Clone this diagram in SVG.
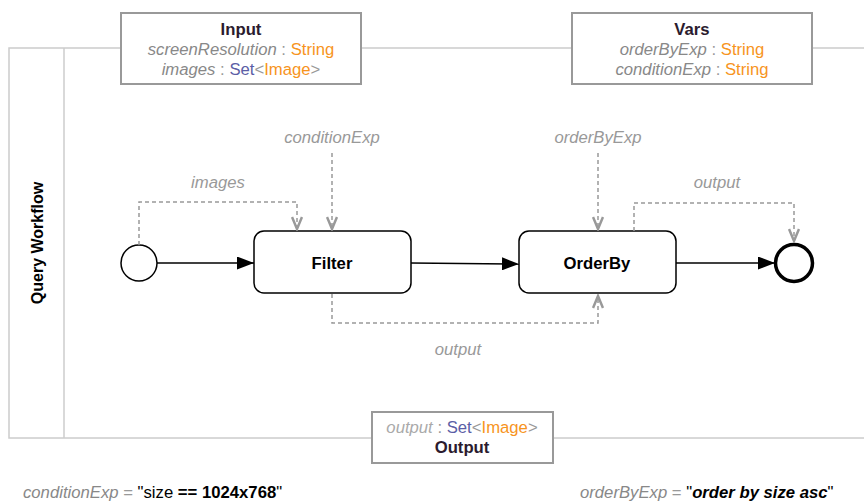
<svg xmlns="http://www.w3.org/2000/svg" width="864" height="502" viewBox="0 0 864 502">
<style>
text{font-family:"Liberation Sans",Arial,sans-serif;font-size:16.7px}
.t{font-weight:bold;fill:#2b1b2e;text-anchor:middle}
.g{font-style:italic;fill:#888}
.lbl{font-style:italic;fill:#999;text-anchor:middle}
.o{fill:#f7941d}
.p{fill:#5b5ea6}
.lt{fill:#999}
.box{fill:#fff;stroke:#999;stroke-width:2}
.task{fill:#fff;stroke:#000;stroke-width:1.5}
.flow{fill:none;stroke:#000;stroke-width:1.5}
.data{fill:none;stroke:#999;stroke-width:1.5;stroke-dasharray:4 3}
</style>
<defs>
<marker id="tri" viewBox="0 0 17 13" refX="17" refY="6.5" markerWidth="17" markerHeight="13" markerUnits="userSpaceOnUse" orient="auto">
<path d="M0,0 L17,6.5 L0,13 Z" fill="#000"/>
</marker>
<marker id="chev" viewBox="0 0 16 12" refX="15" refY="6" markerWidth="16" markerHeight="12" markerUnits="userSpaceOnUse" orient="auto">
<path d="M2,1 L14,6 L2,11" fill="none" stroke="#999" stroke-width="2.5"/>
</marker>
</defs>
<g id="pool">
<rect x="9" y="48" width="870" height="390" fill="none" stroke="#ccc" stroke-width="1.5"/>
<line x1="64" y1="48" x2="64" y2="438" stroke="#ccc" stroke-width="1.5"/>
<text class="t" transform="translate(43,243) rotate(-90)" style="fill:#000;font-size:16px">Query Workflow</text>
</g>
<g id="input">
<rect class="box" x="121" y="13" width="240" height="71"/>
<text class="t" x="241" y="35">Input</text>
<text x="241" y="55" text-anchor="middle"><tspan class="g">screenResolution</tspan><tspan class="lt"> : </tspan><tspan class="o">String</tspan></text>
<text x="241" y="75" text-anchor="middle"><tspan class="g">images</tspan><tspan class="lt"> : </tspan><tspan class="p">Set</tspan><tspan class="lt">&lt;</tspan><tspan class="o">Image</tspan><tspan class="lt">&gt;</tspan></text>
</g>
<g id="vars">
<rect class="box" x="572" y="13" width="240" height="71"/>
<text class="t" x="692" y="35">Vars</text>
<text x="692" y="55" text-anchor="middle"><tspan class="g">orderByExp</tspan><tspan class="lt"> : </tspan><tspan class="o">String</tspan></text>
<text x="692" y="75" text-anchor="middle"><tspan class="g">conditionExp</tspan><tspan class="lt"> : </tspan><tspan class="o">String</tspan></text>
</g>
<g id="output">
<rect class="box" x="372" y="412" width="181" height="51"/>
<text x="462" y="433" text-anchor="middle"><tspan class="g" style="fill:#aaa">output</tspan><tspan class="lt"> : </tspan><tspan class="p">Set</tspan><tspan class="lt">&lt;</tspan><tspan class="o">Image</tspan><tspan class="lt">&gt;</tspan></text>
<text class="t" x="462" y="453">Output</text>
</g>
<g id="start">
<circle cx="139" cy="263" r="18" fill="#fff" stroke="#000" stroke-width="1.5"/>
</g>
<g id="filter">
<rect class="task" x="254" y="231" width="157" height="62" rx="10"/>
<text class="t" x="332" y="269" style="fill:#000">Filter</text>
</g>
<g id="orderby">
<rect class="task" x="519" y="231" width="157" height="62" rx="10"/>
<text class="t" x="597" y="269" style="fill:#000">OrderBy</text>
</g>
<g id="end">
<circle cx="794" cy="263" r="18.5" fill="#fff" stroke="#000" stroke-width="3.5"/>
</g>
<g id="connectors">
<line class="flow" x1="157" y1="263" x2="254" y2="263" marker-end="url(#tri)"/>
<line class="flow" x1="411" y1="263" x2="519" y2="264" marker-end="url(#tri)"/>
<line class="flow" x1="676" y1="263" x2="775" y2="263" marker-end="url(#tri)"/>
<polyline class="data" points="139,245 139,202 297,202 297,230" marker-end="url(#chev)"/>
<polyline class="data" points="332,153 332,230" marker-end="url(#chev)"/>
<polyline class="data" points="598,153 598,230" marker-end="url(#chev)"/>
<polyline class="data" points="634,231 634,203 794,203 794,242" marker-end="url(#chev)"/>
<polyline class="data" points="332,294 332,323 598,323 598,295" marker-end="url(#chev)"/>
<text class="lbl" x="218" y="188">images</text>
<text class="lbl" x="332" y="143">conditionExp</text>
<text class="lbl" x="598" y="143">orderByExp</text>
<text class="lbl" x="717" y="188">output</text>
<text class="lbl" x="458" y="355">output</text>
</g>
<g id="notes">
<text x="23" y="498"><tspan class="g">conditionExp</tspan><tspan class="lt"> = </tspan><tspan fill="#000">"size </tspan><tspan fill="#000" font-weight="bold">== 1024x768</tspan><tspan fill="#000">"</tspan></text>
<text x="580" y="498"><tspan class="g">orderByExp</tspan><tspan class="lt"> = </tspan><tspan fill="#000">"</tspan><tspan fill="#000" font-weight="bold" font-style="italic">order by size asc</tspan><tspan fill="#000">"</tspan></text>
</g>
</svg>
